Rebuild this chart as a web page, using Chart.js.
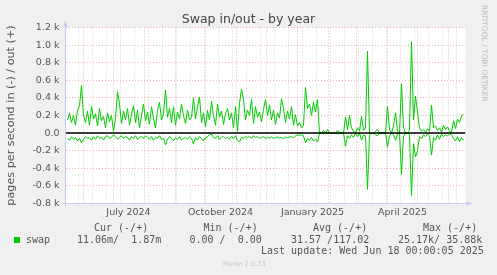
<!DOCTYPE html>
<html lang="en">
<head>
<meta charset="UTF-8">
<title>Swap in/out - by year</title>
<script src="https://cdn.jsdelivr.net/npm/chart.js"></script>
<style>
  body { margin: 0; background: #f0f0f0; }
  #wrap { position: relative; width: 497px; height: 275px; overflow: hidden; }
  #wrap canvas { position: absolute; left: 0; top: 0; }
  .t { position: absolute; white-space: pre; line-height: 12px; color: #555; }
  .mono { font: 10px "DejaVu Sans Mono", monospace; }
  #title { left: 0; width: 497px; top: 12px; text-align: center; font: 12.5px "DejaVu Sans", sans-serif; color: #444; line-height: 14px; }
  #rrd { left: 489px; top: 5px; font: 7.5px "DejaVu Sans", sans-serif; color: #bbb; transform-origin: 0 0; transform: rotate(90deg); line-height: 9px; }
  #munin { left: 223px; top: 260px; font: 6.5px "DejaVu Sans", sans-serif; color: #c4c4c4; line-height: 8px; }
  #swatch { position: absolute; left: 14px; top: 237px; width: 6px; height: 6px; background: #00cc00; }
</style>
</head>
<body>
<div id="wrap">
  <canvas id="swapChart" width="497" height="275"></canvas>
  <div id="title" class="t">Swap in/out - by year</div>
  <div id="rrd" class="t">RRDTOOL / TOBI OETIKER</div>
  <div class="t mono" style="left:94px;top:222px">Cur (-/+)</div>
  <div class="t mono" style="left:203.5px;top:222px">Min (-/+)</div>
  <div class="t mono" style="left:313px;top:222px">Avg (-/+)</div>
  <div class="t mono" style="left:423px;top:222px">Max (-/+)</div>
  <div id="swatch"></div>
  <div class="t mono" style="left:26px;top:234px">swap</div>
  <div class="t mono" style="left:77px;top:234px">11.06m/  1.87m</div>
  <div class="t mono" style="left:189.5px;top:234px">0.00 /  0.00</div>
  <div class="t mono" style="left:291px;top:234px">31.57 /117.02</div>
  <div class="t mono" style="left:398px;top:234px">25.17k/ 35.88k</div>
  <div class="t mono" style="left:261px;top:245px">Last update: Wed Jun 18 00:00:05 2025</div>
  <div id="munin" class="t">Munin 2.0.73</div>
</div>

<script>
  // axis runs 400 days, from 2024-05-14 to 2025-06-18
  const axisStart = Date.UTC(2024, 4, 14);
  const axisDays = 400;
  const firstSample = '2024-05-16';
  const sampleStepDays = 2;

  const quarterLabels = ['July 2024', 'October 2024', 'January 2025', 'April 2025'];
  const quarterLabelDates = ['2024-07-16', '2024-10-16', '2025-01-16', '2025-04-16'];
  const firstMinorDate = '2024-05-27';
  const minorStepDays = 14;

  // pages per second, swap out (+), one value per 2 days
  const swapOut = [
    150, 230, 120, 200, 90, 260, 310, 540, 200, 120,
    250, 90, 300, 160, 220, 80, 280, 140, 190, 60,
    230, 130, 200, 20, 170, 470, 330, 110, 250, 150,
    280, 90, 210, 310, 120, 260, 60, 200, 330, 140,
    240, 100, 300, 170, 60, 260, 350, 150, 220, 490,
    180, 280, 120, 300, 90, 240, 160, 330, 200, 110,
    260, 150, 180, 400, 160, 300, 410, 120, 230, 70,
    260, 150, 360, 200, 90, 330, 180, 250, 100, 220,
    280, 150, 230, 60, 300, 20, 340, 500, 380, 150,
    260, 200, 380, 110, 300, 180, 240, 130, 270, 380,
    200, 320, 150, 260, 100, 230, 170, 390, 280, 120,
    250, 160, 300, 90, 210, 80, 120, 60, 90, 520,
    280, 330, 200, 350, 240, 380, 0, 0, 30, 0,
    40, 0, 0, 0, 0, 30, 10, 0, 0, 180,
    40, 200, 60, 20, 0, 60, 20, 190, 30, 60,
    930, 0, 0, 0, 20, 40, 0, 0, 0, 0,
    300, 40, 0, 80, 230, 20, 0, 560, 60, 0,
    0, 30, 1040, 150, 420, 240, 60, 20, 40, 10,
    50, 20, 320, 60, 80, 30, 60, 10, 90, 40,
    70, 20, 10, 140, 50, 160, 120, 200, 210
  ];

  // pages per second, swap in (drawn as negative)
  const swapIn = [
    -60, -80, -40, -70, -50, -90, -60, -110, -70, -40,
    -60, -50, -80, -40, -70, -30, -60, -50, -80, -40,
    -30, -60, -50, -20, -40, -70, -50, -30, -60, -40,
    -50, -80, -40, -60, -30, -70, -50, -40, -60, -30,
    -50, -70, -40, -80, -50, -60, -30, -70, -60, -135,
    -70, -40, -60, -90, -50, -70, -40, -80, -60, -50,
    -70, -40, -60, -125, -50, -80, -40, -60, -90, -50,
    -40, -20, -10, -50, -60, -30, -70, -50, -40, -60,
    -50, -70, -40, -60, -30, -80, -100, -50, -60, -40,
    -50, -40, -60, -30, -50, -40, -60, -50, -40, -60,
    -50, -55, -45, -60, -50, -45, -55, -50, -60, -45,
    -50, -45, -40, -55, -30, -20, -25, -20, -30, -110,
    -60, -80, -50, -90, -70, -100, 0, 0, 0, 0,
    0, 0, 0, 0, 0, -10, 0, 0, 0, -150,
    -30, -60, -20, -50, 0, -40, 0, -80, -20, -30,
    -640, -20, 0, 0, -20, -30, 0, 0, 0, 0,
    -160, -30, 0, -20, -80, -10, 0, -470, -40, 0,
    0, -20, -710, -120, -270, -200, -40, -60, -20, -40,
    -10, -30, -250, -50, -80, -20, -70, -10, -40, -20,
    -30, -10, -20, -60, -90, -40, -100, -50, -80
  ];

  const yMin = -800, yMax = 1200;
  const green = '#00cc00';
  const majorGrid = 'rgba(228, 140, 140, 0.65)';
  const minorGrid = 'rgba(185, 185, 185, 0.6)';
  const axisColor = '#c5cbf3';
  const textColor = '#555';

  function dayOf(iso) {
    const [y, m, d] = iso.split('-').map(Number);
    return (Date.UTC(y, m - 1, d) - axisStart) / 86400000;
  }

  const sample0 = dayOf(firstSample);
  const toPoints = arr => arr.map((v, i) => ({ x: sample0 + i * sampleStepDays, y: v }));

  function buildXTicks(scale) {
    const ticks = [];
    for (let d = dayOf(firstMinorDate); d < axisDays; d += minorStepDays) {
      ticks.push({ value: d, kind: 'minor' });
    }
    // month starts: Jun 2024 .. Jun 2025
    for (let k = 0; k < 13; k++) {
      const dt = new Date(Date.UTC(2024, 5 + k, 1));
      ticks.push({ value: (dt - axisStart) / 86400000, kind: 'major' });
    }
    quarterLabelDates.forEach((iso, i) => {
      ticks.push({ value: dayOf(iso), kind: 'label', text: quarterLabels[i] });
    });
    ticks.sort((a, b) => a.value - b.value);
    scale.ticks = ticks;
  }

  const backdrop = {
    id: 'backdrop',
    beforeDraw(chart) {
      const { ctx, chartArea: a } = chart;
      ctx.save();
      ctx.fillStyle = '#fff';
      ctx.fillRect(a.left, a.top, a.right - a.left, a.bottom - a.top);
      ctx.restore();
    }
  };

  const axesArrows = {
    id: 'axesArrows',
    afterDraw(chart) {
      const { ctx, chartArea: a } = chart;
      ctx.save();
      ctx.strokeStyle = axisColor;
      ctx.fillStyle = axisColor;
      ctx.lineWidth = 1;
      ctx.beginPath();
      ctx.moveTo(a.left, a.bottom + 3);
      ctx.lineTo(a.left, a.top - 4);
      ctx.moveTo(a.left - 3, a.bottom);
      ctx.lineTo(a.right + 3, a.bottom);
      ctx.stroke();
      ctx.beginPath();
      ctx.moveTo(a.left - 2.5, a.top - 1);
      ctx.lineTo(a.left, a.top - 6.5);
      ctx.lineTo(a.left + 2.5, a.top - 1);
      ctx.closePath();
      ctx.fill();
      ctx.beginPath();
      ctx.moveTo(a.right + 1, a.bottom - 2.5);
      ctx.lineTo(a.right + 6.5, a.bottom);
      ctx.lineTo(a.right + 1, a.bottom + 2.5);
      ctx.closePath();
      ctx.fill();
      ctx.restore();
    }
  };

  new Chart(document.getElementById('swapChart'), {
    type: 'line',
    data: {
      datasets: [
        {
          label: 'zero',
          data: [{ x: 0, y: 0 }, { x: axisDays, y: 0 }],
          borderColor: '#000',
          borderWidth: 1.5
        },
        {
          label: 'swap out',
          data: toPoints(swapOut),
          borderColor: green,
          borderWidth: 1
        },
        {
          label: 'swap in',
          data: toPoints(swapIn),
          borderColor: green,
          borderWidth: 1
        }
      ]
    },
    options: {
      responsive: false,
      animation: false,
      devicePixelRatio: 1,
      layout: { padding: { left: 0, right: 31.5, top: 27.5, bottom: 0 } },
      elements: { point: { radius: 0 }, line: { tension: 0 } },
      plugins: { legend: { display: false }, tooltip: { enabled: false } },
      scales: {
        x: {
          type: 'linear',
          min: 0,
          max: axisDays,
          afterBuildTicks: buildXTicks,
          afterFit(scale) { scale.height = 71.5; },
          grid: {
            drawTicks: false,
            color: c => c.tick && c.tick.kind === 'major' ? majorGrid
              : (c.tick && c.tick.kind === 'minor' ? minorGrid : 'rgba(0,0,0,0)')
          },
          border: { display: false, dash: [1, 2] },
          ticks: {
            autoSkip: false,
            maxRotation: 0,
            padding: 3,
            color: textColor,
            font: { family: 'DejaVu Sans', size: 9.5 },
            callback: (v, i, ticks) => ticks[i].kind === 'label' ? ticks[i].text : ''
          }
        },
        y: {
          min: yMin,
          max: yMax,
          afterFit(scale) { scale.width = 65.5; },
          grid: {
            drawTicks: false,
            color: c => Math.round(c.tick.value) % 200 === 0 ? majorGrid : minorGrid
          },
          border: { display: false, dash: [1, 2] },
          ticks: {
            stepSize: 100,
            padding: 6,
            color: textColor,
            font: { family: 'DejaVu Sans', size: 9.5 },
            callback: v => {
              const n = Math.round(v);
              if (n % 200 !== 0) return '';
              if (n === 0) return '0.0';
              return (n / 1000).toFixed(1) + ' k';
            }
          },
          title: {
            display: true,
            text: 'pages per second in (-) / out (+)',
            color: textColor,
            font: { family: 'DejaVu Sans', size: 11.2 },
            padding: { top: 4, bottom: 0 }
          }
        }
      }
    },
    plugins: [backdrop, axesArrows]
  });
</script>
</body>
</html>
